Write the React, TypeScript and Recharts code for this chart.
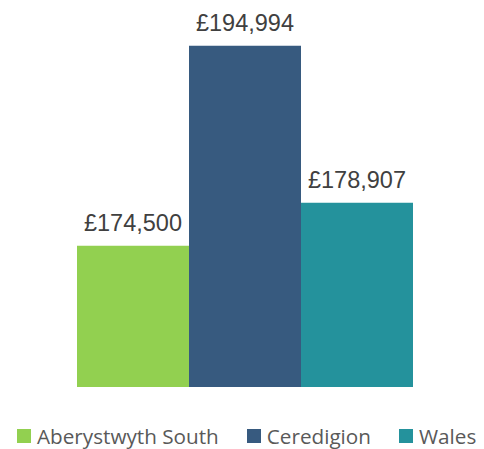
import { BarChart, Bar, XAxis, YAxis, Legend, LabelList } from 'recharts';

const categories = [''];
const seriesNames = ['Aberystwyth South', 'Ceredigion', 'Wales'];
const seriesKeys = ['aber', 'cered', 'wales'];
const seriesValues = [174500, 194994, 178907];
const seriesColors = ['#92D050', '#375A7F', '#24929C'];

const data = categories.map((name) => {
    const row: any = { name };
    seriesKeys.forEach((k, i) => {
        row[k] = seriesValues[i];
    });
    return row;
});

const fmt = (v: any) => '£' + Number(v).toLocaleString('en-GB');

const LegendContent = () => (
    <div
        style={{
            display: 'flex',
            alignItems: 'center',
            fontFamily: '"Open Sans", sans-serif',
            fontSize: 20.7,
            lineHeight: '26px',
            color: '#595959',
            paddingLeft: 17,
            whiteSpace: 'nowrap',
        }}
    >
        {seriesNames.map((n, i) => (
            <span key={n} style={{ display: 'flex', alignItems: 'center', marginRight: i < 2 ? 28 : 0 }}>
                <span style={{ width: 14, height: 14, background: seriesColors[i], marginRight: 6, display: 'inline-block' }} />
                {n}
            </span>
        ))}
    </div>
);

export default function App() {
    return (
        <div style={{ position: 'absolute', left: 0, top: 0, background: 'white' }}>
            <BarChart
                width={484}
                height={449}
                data={data}
                margin={{ top: -3, right: 71, left: 77, bottom: 36 }}
                barGap={0}
                barCategoryGap={0}
            >
                <XAxis dataKey="name" hide />
                <YAxis type="number" domain={[160000, 200000]} hide allowDataOverflow />
                <Legend
                    verticalAlign="bottom"
                    content={<LegendContent />}
                    wrapperStyle={{ left: 0, bottom: 0, width: 484, height: 26 }}
                />
                {seriesKeys.map((k, i) => (
                    <Bar key={k} dataKey={k} name={seriesNames[i]} fill={seriesColors[i]} isAnimationActive={false}>
                        <LabelList
                            dataKey={k}
                            position="top"
                            offset={15}
                            formatter={fmt}
                            fill="#404040"
                            fontSize={23.5}
                            fontFamily='"Liberation Sans", Arial, sans-serif'
                        />
                    </Bar>
                ))}
            </BarChart>
        </div>
    );
}
